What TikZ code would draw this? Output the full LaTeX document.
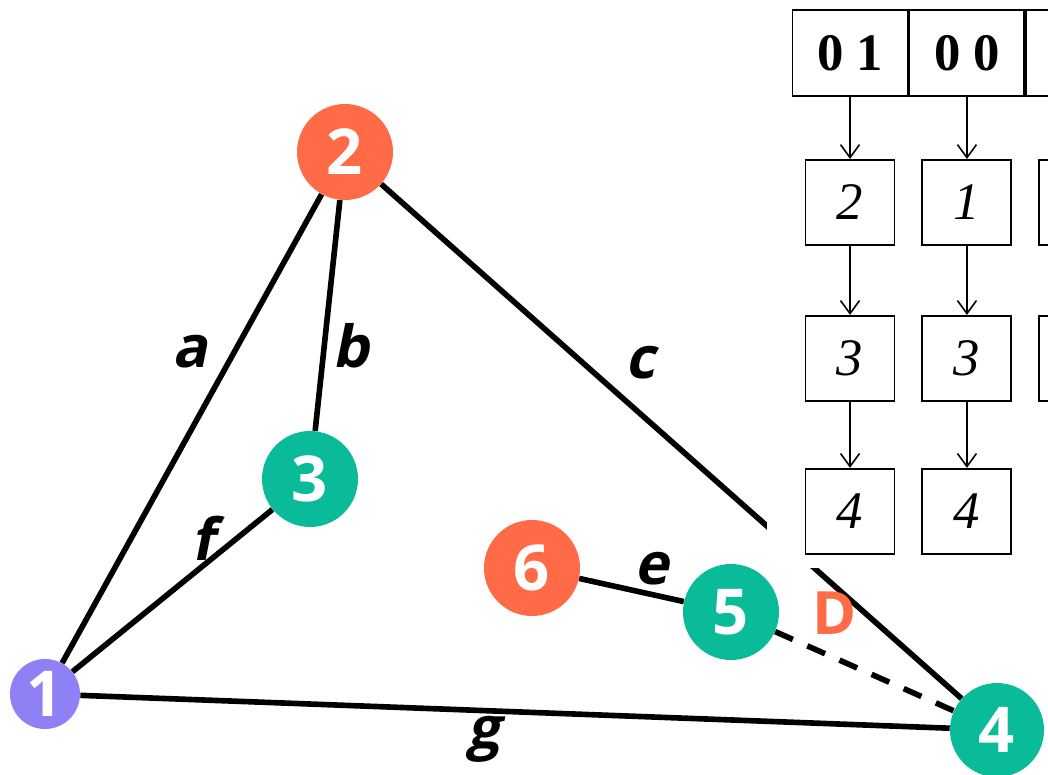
\documentclass[tikz,border=0pt]{standalone}
\usepackage{fontspec}
\setmainfont{Liberation Serif}
\setsansfont{Open Sans}
\newfontfamily\slantsans[FakeSlant=0.2]{Open Sans}
\usetikzlibrary{arrows.meta,positioning}
\definecolor{coral}{HTML}{FF6B47}
\definecolor{jade}{HTML}{0ABB9A}
\definecolor{lilac}{HTML}{9080F5}
\tikzset{
  vert/.style={circle, inner sep=0pt, minimum size=19.2mm, text=white,
               font=\sffamily\bfseries\fontsize{36}{36}\selectfont},
  hotv/.style={vert, fill=coral},
  coolv/.style={vert, fill=jade},
  rootv/.style={vert, fill=lilac, minimum size=14mm},
  link/.style={draw=black, line width=3.2pt},
  spare/.style={link, dash pattern=on 11pt off 9pt},
  elbl/.style={anchor=base, font=\slantsans\bfseries\fontsize{33}{33}\selectfont},
  dlbl/.style={anchor=base, text=coral, font=\sffamily\bfseries\fontsize{34}{34}\selectfont},
  headcell/.style={rectangle, draw, line width=1.1pt, minimum width=23mm, minimum height=17.2mm,
                   inner sep=0pt, font=\bfseries\fontsize{30}{30}\selectfont},
  entry/.style={rectangle, draw, line width=1.1pt, minimum width=17.8mm, minimum height=17mm,
                inner sep=0pt, font=\itshape\fontsize{30}{30}\selectfont},
  ptr/.style={-{Straight Barb[length=2.6mm, width=3.8mm]}, line width=0.9pt}
}
\begin{document}
\begin{tikzpicture}[x=0.2mm, y=-0.2mm]
  \clip (0,0) rectangle (1048,775);
  % graph
  \node[rootv] (v1) at (45,694) {1};
  \node[hotv] (v2) at (345,152) {2};
  \node[coolv] (v3) at (310,479) {3};
  \node[coolv, minimum size=18.8mm] (v4) at (997,730) {4};
  \node[coolv] (v5) at (731,612) {5};
  \node[hotv] (v6) at (532,568) {6};
  \draw[link] (v1)--(v2); \draw[link] (v2)--(v3); \draw[link] (v2)--(v4);
  \draw[link] (v1)--(v3); \draw[link] (v6)--(v5); \draw[link] (v1)--(v4);
  \draw[spare] (v5)--(v4);
  \node[elbl] (la) at (190,367) {a};
  \node[elbl] (lb) at (351,367) {b};
  \node[elbl] (lc) at (640,378) {c};
  \node[elbl] (lf) at (203,560) {f};
  \node[elbl] (le) at (652,584) {e};
  \node[elbl] (lg) at (484,748) {g};
  \node[dlbl] (ld) at (835,634) {D};
  % adjacency list
  \fill[white] (767,0) rectangle (1048,568);
  \node[headcell] (h1) at (850,53) {0 1};
  \node[headcell, right=0pt of h1] (h2) {0 0};
  \node[headcell, right=0pt of h2] (h3) {};
  \node[entry, below=12.4mm of h1] (p1) {2};
  \node[entry, below=13.8mm of p1] (p2) {3};
  \node[entry, below=13.2mm of p2] (p3) {4};
  \node[entry, below=12.4mm of h2] (q1) {1};
  \node[entry, below=13.8mm of q1] (q2) {3};
  \node[entry, below=13.2mm of q2] (q3) {4};
  \node[entry, below=12.4mm of h3] (r1) {};
  \node[entry, below=13.8mm of r1] (r2) {};
  \foreach \a/\b in {h1/p1,p1/p2,p2/p3,h2/q1,q1/q2,q2/q3}
    \draw[ptr] (\a)--(\b);
\end{tikzpicture}
\end{document}
